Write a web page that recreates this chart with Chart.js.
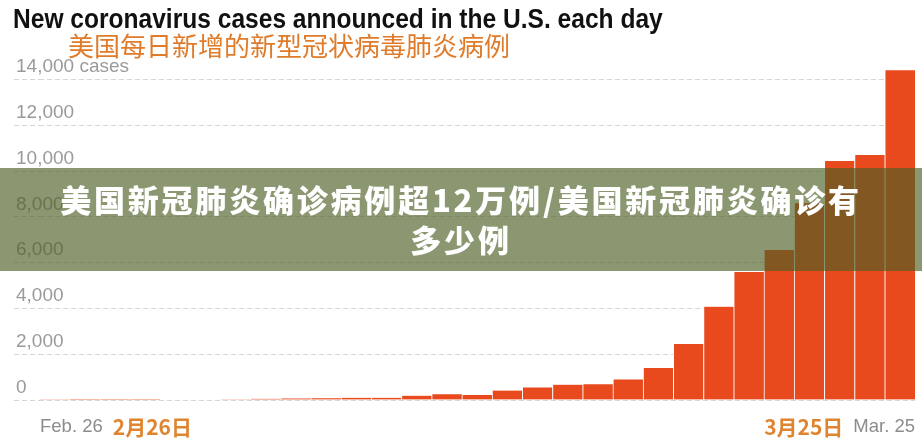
<!DOCTYPE html>
<html>
<head>
<meta charset="utf-8">
<script src="https://cdn.jsdelivr.net/npm/chart.js@4"></script>
<style>
  html, body { margin: 0; padding: 0; background: #fff; }
  #wrap { position: relative; width: 922px; height: 440px; overflow: hidden; }
  #chart { position: absolute; left: 0; top: 0; }
  .title {
    position: absolute; left: 13px; top: 5px; white-space: nowrap;
    font: bold 28px/28px "Liberation Sans", sans-serif;
    color: #111; transform-origin: 0 0;
  }
  .subtitle {
    position: absolute; left: 68px; top: 31px; white-space: nowrap;
    font: 400 26px/28px "Noto Sans CJK SC", sans-serif;
    color: #e07b2a;
  }
  .banner {
    position: absolute; left: 0; top: 168px; width: 922px; height: 103px;
    background: rgba(75, 96, 35, 0.65);
    color: #fff; text-align: center; box-sizing: border-box; padding-top: 11px;
    font: 900 31px/40px "Noto Sans CJK SC", sans-serif; letter-spacing: 2.8px;
  }
</style>
</head>
<body>
<div id="wrap">
  <canvas id="chart" width="922" height="440"></canvas>
  <div class="title" id="title">New coronavirus cases announced in the U.S. each day</div>
  <div class="subtitle">美国每日新增的新型冠状病毒肺炎病例</div>
  <div class="banner">美国新冠肺炎确诊病例超12万例/美国新冠肺炎确诊有<br>多少例</div>
</div>
<script>
// días (26 feb - 25 mar)
const days = [
  "Feb. 26", "Feb. 27", "Feb. 28", "Feb. 29", "Mar. 1", "Mar. 2", "Mar. 3",
  "Mar. 4", "Mar. 5", "Mar. 6", "Mar. 7", "Mar. 8", "Mar. 9", "Mar. 10",
  "Mar. 11", "Mar. 12", "Mar. 13", "Mar. 14", "Mar. 15", "Mar. 16", "Mar. 17",
  "Mar. 18", "Mar. 19", "Mar. 20", "Mar. 21", "Mar. 22", "Mar. 23", "Mar. 24",
  "Mar. 25"
];

// casos nuevos por día
const newCases = [
  15, 3, 3, 5, 20, 25, 30,
  50, 70, 80, 100, 100, 190, 250,
  220, 410, 550, 670, 690, 900, 1400,
  2445, 4075, 5590, 6550, 8590, 10440, 10700,
  14400
];

const yTicks = [0, 2000, 4000, 6000, 8000, 10000, 12000, 14000];
const yTickLabels = ["0", "2,000", "4,000", "6,000", "8,000", "10,000", "12,000", "14,000 cases"];

// etiquetas del eje x: inglés + chino
const firstDayLabel = ["Feb. 26", "2月26日"];
const lastDayLabel = ["Mar. 25", "3月25日"];

const GRID = "#d6d6d6";
const DASH = [5, 3];

// el título condensado ocupa ~650px
const titleEl = document.getElementById("title");
titleEl.style.transform = "scaleX(" + (650 / titleEl.offsetWidth) + ")";

// dibuja las fechas inicial y final en dos colores
const dateLabels = {
  id: "dateLabels",
  afterDraw(chart) {
    const ctx = chart.ctx;
    const x = chart.scales.x;
    const half = (x.getPixelForValue(1) - x.getPixelForValue(0)) / 2;
    const left = x.getPixelForValue(0) - half;
    const right = x.getPixelForValue(days.length - 1) + half;
    const y = 427;
    const en = '18.5px "Liberation Sans", sans-serif';
    const zh = 'bold 21px "Noto Sans CJK SC", sans-serif';

    ctx.save();
    ctx.textBaseline = "middle";

    ctx.textAlign = "left";
    ctx.font = en;
    ctx.fillStyle = "#8c8c8c";
    ctx.fillText(firstDayLabel[0], left + 1, y);
    const w = ctx.measureText(firstDayLabel[0]).width;
    ctx.font = zh;
    ctx.fillStyle = "#df8530";
    ctx.fillText(firstDayLabel[1], left + 1 + w + 10, y);

    ctx.textAlign = "right";
    ctx.font = en;
    ctx.fillStyle = "#8c8c8c";
    ctx.fillText(lastDayLabel[0], right, y);
    const w2 = ctx.measureText(lastDayLabel[0]).width;
    ctx.font = zh;
    ctx.fillStyle = "#df8530";
    ctx.fillText(lastDayLabel[1], right - w2 - 10, y);
    ctx.restore();
  }
};

new Chart(document.getElementById("chart").getContext("2d"), {
  type: "bar",
  data: {
    labels: days,
    datasets: [{
      data: newCases,
      backgroundColor: "#e8491d",
      borderColor: "#ffffff",
      borderWidth: { left: 1, right: 0, top: 0, bottom: 0 },
      borderSkipped: false,
      barPercentage: 1,
      categoryPercentage: 1
    }]
  },
  options: {
    responsive: false,
    animation: false,
    layout: { padding: { left: 14, right: 7, top: 68, bottom: 40 } },
    plugins: {
      legend: { display: false },
      tooltip: { enabled: false }
    },
    scales: {
      x: { display: false },
      y: {
        min: 0,
        max: 14500,
        afterFit: (s) => { s.width = 25; },
        afterBuildTicks: (s) => { s.ticks = yTicks.map(v => ({ value: v })); },
        ticks: {
          mirror: true,
          padding: -23,
          labelOffset: -12.5,
          color: "#9a9a9a",
          font: { family: "Liberation Sans", size: 19 },
          callback: (v) => yTickLabels[yTicks.indexOf(v)]
        },
        grid: {
          color: GRID,
          tickColor: GRID,
          drawTicks: true,
          tickLength: 25,
          tickBorderDash: DASH
        },
        border: { display: false, dash: DASH }
      }
    }
  },
  plugins: [dateLabels]
});
</script>
</body>
</html>
